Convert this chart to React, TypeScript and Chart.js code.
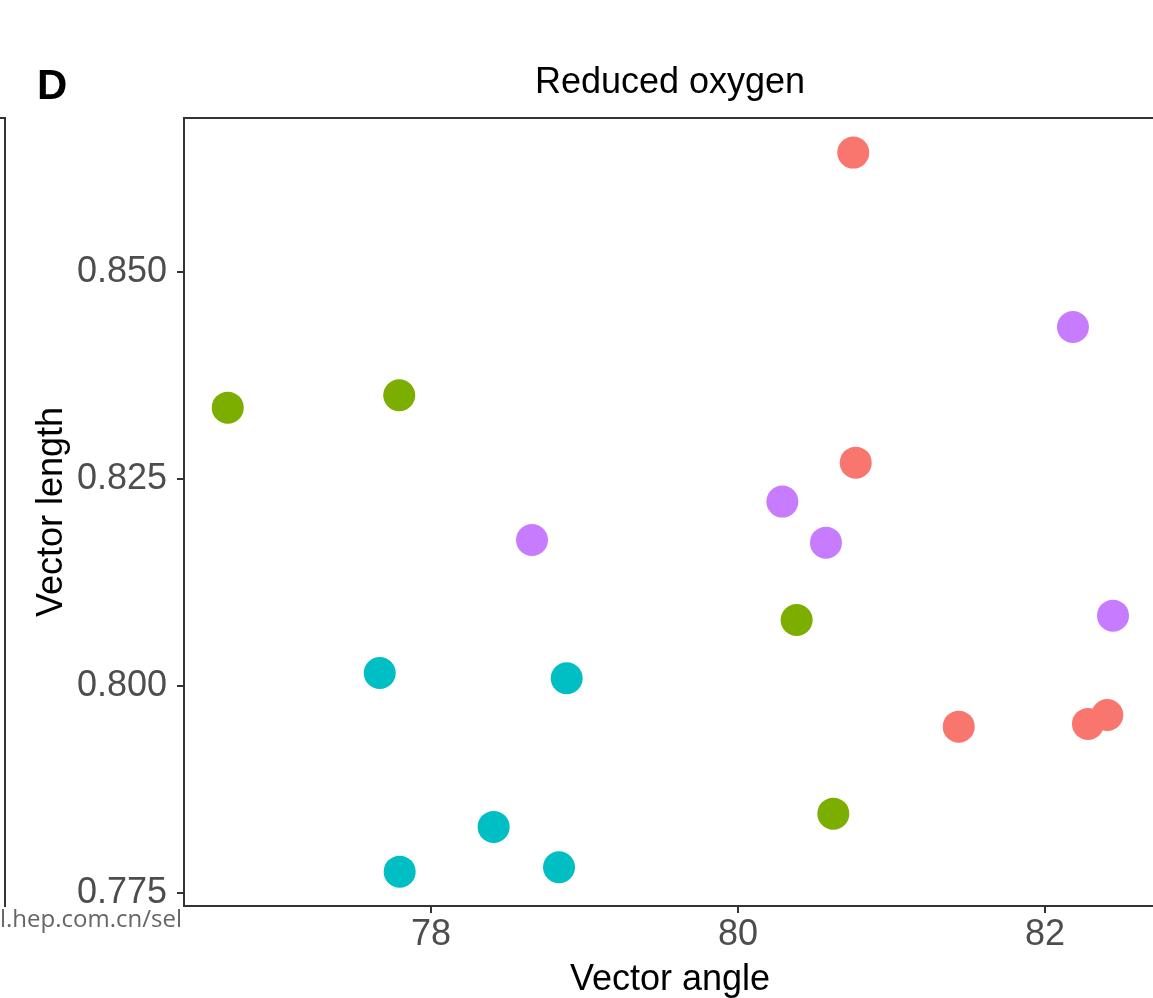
import React, { useEffect, useRef } from "react";
import { Chart, registerables } from "chart.js";

Chart.register(...registerables);

// Vector angle (x) and vector length (y) per group, reduced-oxygen condition
const redAngle = [80.751, 80.767, 81.438, 82.28, 82.406];
const redLength = [0.86439, 0.82697, 0.79511, 0.79544, 0.79652];

const greenAngle = [76.676, 77.793, 80.382, 80.621];
const greenLength = [0.83361, 0.83511, 0.80799, 0.78461];

const cyanAngle = [77.666, 78.884, 78.408, 77.796, 78.834];
const cyanLength = [0.80159, 0.80095, 0.78301, 0.77761, 0.77814];

const purpleAngle = [82.182, 80.289, 78.658, 80.573, 82.443];
const purpleLength = [0.84335, 0.82227, 0.81764, 0.81732, 0.80851];

const xTickValues = [78, 80, 82];
const yTickValues = [0.775, 0.8, 0.825, 0.85];

const groups = [
  { label: "Group 1", color: "#F8766D", xs: redAngle, ys: redLength },
  { label: "Group 2", color: "#7CAE00", xs: greenAngle, ys: greenLength },
  { label: "Group 3", color: "#00BFC4", xs: cyanAngle, ys: cyanLength },
  { label: "Group 4", color: "#C77CFF", xs: purpleAngle, ys: purpleLength },
];

const FONT = "'Liberation Sans', Arial, Helvetica, sans-serif";
const W = 1153;
const H = 998;

// Panel frame, headings, axis titles and the neighbouring panel's edge
const decorations = {
  id: "decorations",
  afterDraw(chart: any) {
    const { ctx, chartArea } = chart;
    ctx.save();
    ctx.strokeStyle = "#333333";
    ctx.lineWidth = 2;
    ctx.beginPath();
    ctx.moveTo(chartArea.left - 1, chartArea.top);
    ctx.lineTo(chartArea.right, chartArea.top);
    ctx.stroke();

    // right edge of the panel to the left
    ctx.beginPath();
    ctx.moveTo(0, chartArea.top);
    ctx.lineTo(5, chartArea.top);
    ctx.lineTo(5, chartArea.bottom + 1);
    ctx.stroke();

    ctx.fillStyle = "#000000";
    ctx.font = `bold 42px ${FONT}`;
    ctx.textAlign = "left";
    ctx.textBaseline = "alphabetic";
    ctx.fillText("D", 37, 99);

    ctx.font = `36px ${FONT}`;
    ctx.textAlign = "center";
    ctx.fillText("Reduced oxygen", 670, 93);
    ctx.fillText("Vector angle", 670, 990);

    ctx.save();
    ctx.translate(62, 512);
    ctx.rotate(-Math.PI / 2);
    ctx.fillText("Vector length", 0, 0);
    ctx.restore();

    ctx.fillStyle = "#666666";
    ctx.font = `24px 'Open Sans', 'Noto Sans', sans-serif`;
    ctx.textAlign = "left";
    ctx.fillText("l.hep.com.cn/sel", 0, 927);
    ctx.restore();
  },
};

export default function App() {
  const canvasRef = useRef<HTMLCanvasElement | null>(null);

  useEffect(() => {
    const canvas = canvasRef.current;
    if (!canvas) return;
    const axisCommon = {
      grid: {
        display: true,
        drawOnChartArea: false,
        drawTicks: true,
        tickLength: 7,
        color: "#333333",
        lineWidth: 2,
      },
      border: { display: true, color: "#333333", width: 2 },
    };
    const chart = new Chart(canvas, {
      type: "scatter",
      data: {
        datasets: groups.map((g) => ({
          label: g.label,
          data: g.xs.map((x, i) => ({ x, y: g.ys[i] })),
          backgroundColor: g.color,
          borderWidth: 0,
          pointRadius: 16,
          pointHoverRadius: 16,
        })),
      },
      options: {
        responsive: false,
        animation: false,
        layout: {
          autoPadding: false,
          padding: { left: 0, top: 118, right: 0, bottom: 0 },
        },
        plugins: {
          legend: { display: false },
          title: { display: false },
          tooltip: { enabled: false },
        },
        scales: {
          x: {
            type: "linear",
            position: "bottom",
            min: 76.3909,
            max: 82.7036,
            ...axisCommon,
            ticks: {
              padding: 0,
              color: "#4D4D4D",
              font: { family: FONT, size: 36 },
              maxRotation: 0,
              callback: (v: any) => String(v),
            },
            afterBuildTicks: (scale: any) => {
              scale.ticks = xTickValues.map((value) => ({ value }));
            },
            afterFit: (scale: any) => {
              scale.height = H - 906;
              scale.paddingLeft = 0;
              scale.paddingRight = 0;
            },
          },
          y: {
            type: "linear",
            position: "left",
            min: 0.773467,
            max: 0.868567,
            ...axisCommon,
            ticks: {
              padding: 10,
              color: "#4D4D4D",
              font: { family: FONT, size: 36 },
              callback: (v: any) => Number(v).toFixed(3),
            },
            afterBuildTicks: (scale: any) => {
              scale.ticks = yTickValues.map((value) => ({ value }));
            },
            afterFit: (scale: any) => {
              scale.width = 184;
              scale.paddingTop = 0;
              scale.paddingBottom = 0;
            },
          },
        },
      },
      plugins: [decorations],
    } as any);
    return () => chart.destroy();
  }, []);

  return (
    <div
      style={{
        position: "fixed",
        left: 0,
        top: 0,
        width: W,
        height: H,
        overflow: "hidden",
        background: "#ffffff",
      }}
    >
      <canvas ref={canvasRef} width={W} height={H} style={{ display: "block" }} />
    </div>
  );
}
